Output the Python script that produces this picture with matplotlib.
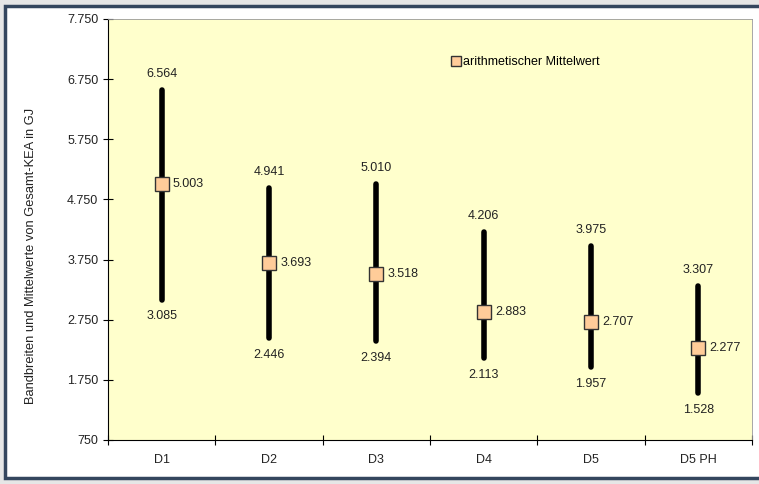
import matplotlib
matplotlib.use("Agg")
import matplotlib.pyplot as plt
from matplotlib.patches import Rectangle
from matplotlib.lines import Line2D

plt.rcParams['font.family'] = ['Liberation Sans', 'DejaVu Sans']

categories = ["D1", "D2", "D3", "D4", "D5", "D5 PH"]
max_vals = [6564, 4941, 5010, 4206, 3975, 3307]
mean_vals = [5003, 3693, 3518, 2883, 2707, 2277]
min_vals = [3085, 2446, 2394, 2113, 1957, 1528]
yticks = [750, 1750, 2750, 3750, 4750, 5750, 6750, 7750]


def de(v):
    return f"{v:,}".replace(",", ".")


fig = plt.figure(figsize=(7.59, 4.84), dpi=100)
fig.patch.set_facecolor("#E6E6E6")
W, H = 759, 484
panel = Rectangle((5 / W, 6 / H), 1.2, (478 - 6) / H, transform=fig.transFigure,
                  facecolor="white", edgecolor="#34465E", linewidth=2.5, zorder=-10)
fig.add_artist(panel)

ax = fig.add_axes([108 / W, 1 - 440 / H, (752 - 108) / W, (440 - 19) / H])
ax.set_zorder(1)
ax.set_facecolor("#FFFFCC")
ax.set_xlim(0, len(categories))
ax.set_ylim(750, 7750)

x = [i + 0.5 for i in range(len(categories))]
for xi, lo, hi, m in zip(x, min_vals, max_vals, mean_vals):
    ax.plot([xi, xi], [lo, hi], color="black", linewidth=4, solid_capstyle="round", zorder=2)
    ax.text(xi, hi + 170, de(hi), ha="center", va="bottom", fontsize=9, color="#222222")
    ax.text(xi, lo - 180, de(lo), ha="center", va="top", fontsize=9, color="#222222")
    ax.text(xi + 0.105, m, de(m), ha="left", va="center", fontsize=9, color="#222222")
ax.plot(x, mean_vals, linestyle="none", marker="s", markersize=10,
        markerfacecolor="#FFCC99", markeredgecolor="#333333", markeredgewidth=1, zorder=3)

ax.set_yticks(yticks)
ax.set_yticklabels([de(v) for v in yticks], fontsize=9, color="#222222")
ax.set_xticks(range(len(categories) + 1))
ax.set_xticklabels([])
ax.set_xticks(x, minor=True)
ax.set_xticklabels(categories, minor=True, fontsize=9, color="#222222")
ax.tick_params(axis="x", which="minor", length=0, pad=10)
ax.tick_params(axis="both", which="major", direction="inout", length=7, width=0.8)

for s in ["top", "right"]:
    ax.spines[s].set_color("#999999")
    ax.spines[s].set_linewidth(0.6)
ax.spines["left"].set_color("black")
ax.spines["bottom"].set_color("black")

ax.set_ylabel("Bandbreiten und Mittelwerte von Gesamt-KEA in GJ", fontsize=9.3, color="#222222")
ax.yaxis.set_label_coords(-0.11, 0.437)

legend_handle = Line2D([], [], linestyle="none", marker="s", markersize=7.5,
                       markerfacecolor="#FFCC99", markeredgecolor="#333333")
ax.legend([legend_handle], ["arithmetischer Mittelwert"], loc="center left",
          bbox_to_anchor=(0.53, 0.898), frameon=False, fontsize=9,
          handletextpad=0.1, handlelength=1.0, borderaxespad=0, borderpad=0)

fig.savefig("out.png", dpi=100)
